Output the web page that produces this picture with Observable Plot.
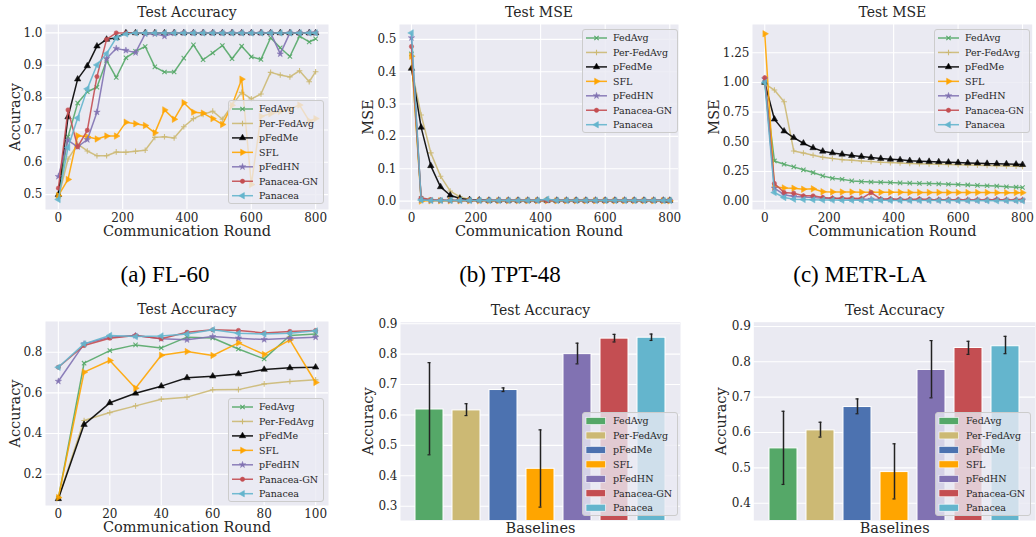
<!DOCTYPE html>
<html><head><meta charset="utf-8">
<script src="https://cdn.jsdelivr.net/npm/d3@7"></script>
<script src="https://cdn.jsdelivr.net/npm/@observablehq/plot@0.6"></script>
<style>
body{margin:0;background:#fff;}
#root{position:relative;width:1036px;height:537px;overflow:hidden;background:#fff;font-family:"DejaVu Serif";}
.panel{position:absolute;}
.cap{position:absolute;font-family:"Liberation Serif";font-size:23px;color:#000;transform:translate(-50%,-50%);white-space:nowrap;}
</style></head><body><div id="root"></div>
<script>
// ---------- data ----------
const methods = ["FedAvg","Per-FedAvg","pFedMe","SFL","pFedHN","Panacea-GN","Panacea"];
const lineColors = ["#55A868","#CCB974","#000000","#FFA500","#8172B2","#C44E52","#64B5CD"];
const barColors  = ["#55A868","#CCB974","#4C72B0","#FFA500","#8172B2","#C44E52","#64B5CD"];

const rounds800 = [0,30,60,90,120,150,180,210,240,270,300,330,360,390,420,450,480,510,540,570,600,630,660,690,720,750,780,800];
const rounds100 = [0,10,20,30,40,50,60,70,80,90,100];

// (a) FL-60 test accuracy
const a_FedAvg    = [0.497,0.679,0.783,0.818,0.832,0.915,0.862,0.923,0.943,0.958,0.895,0.879,0.879,0.922,0.963,0.917,0.938,0.961,0.920,0.959,0.926,0.918,0.985,0.954,0.927,0.990,0.972,0.982];
const a_PerFedAvg = [0.490,0.610,0.656,0.635,0.620,0.620,0.632,0.631,0.634,0.637,0.677,0.679,0.675,0.710,0.735,0.748,0.758,0.733,0.776,0.816,0.796,0.811,0.878,0.870,0.864,0.883,0.849,0.880];
const a_pFedMe    = [0.500,0.740,0.857,0.898,0.959,0.980,0.985,1.000,1.000,1.000,1.000,1.000,1.000,1.000,1.000,1.000,1.000,1.000,1.000,1.000,1.000,1.000,1.000,1.000,1.000,1.000,1.000,1.000];
const a_SFL       = [0.497,0.547,0.682,0.679,0.672,0.681,0.681,0.724,0.719,0.714,0.691,0.762,0.733,0.784,0.755,0.752,0.735,0.717,0.776,0.857,0.531,0.742,0.750,0.757,0.765,0.777,0.728,0.735];
const a_pFedHN    = [0.556,0.668,0.648,0.670,0.755,0.921,0.952,0.946,0.939,0.997,0.997,0.990,0.999,1.000,1.000,1.000,1.000,1.000,1.000,1.000,1.000,1.000,1.000,0.935,1.000,1.000,1.000,1.000];
const a_PanaceaGN = [0.520,0.762,0.648,0.699,0.865,0.980,1.000,1.000,1.000,1.000,1.000,1.000,1.000,1.000,1.000,1.000,1.000,1.000,1.000,1.000,1.000,1.000,1.000,1.000,1.000,1.000,1.000,1.000];
const a_Panacea   = [0.485,0.646,0.737,0.827,0.901,0.936,0.985,0.997,1.000,1.000,1.000,1.000,1.000,1.000,1.000,1.000,1.000,1.000,1.000,1.000,1.000,1.000,1.000,1.000,1.000,1.000,1.000,1.000];

// (b) TPT-48 test MSE
const b_FedAvg    = [0.455,0.008,0.003,0.002,0.002,0.002,0.002,0.002,0.002,0.002,0.002,0.002,0.002,0.002,0.002,0.002,0.002,0.002,0.002,0.002,0.002,0.002,0.002,0.002,0.002,0.002,0.002,0.002];
const b_PerFedAvg = [0.410,0.266,0.149,0.077,0.031,0.013,0.005,0.003,0.002,0.002,0.002,0.002,0.002,0.002,0.002,0.002,0.002,0.002,0.002,0.002,0.002,0.002,0.002,0.002,0.002,0.002,0.002,0.002];
const b_pFedMe    = [0.410,0.228,0.109,0.044,0.018,0.008,0.004,0.003,0.002,0.002,0.002,0.002,0.002,0.002,0.002,0.002,0.002,0.002,0.002,0.002,0.002,0.002,0.002,0.002,0.002,0.002,0.002,0.002];
const b_SFL       = [0.448,0.000,0.001,0.001,0.001,0.001,0.001,0.001,0.001,0.001,0.001,0.001,0.001,0.001,0.001,0.001,0.001,0.001,0.001,0.001,0.001,0.001,0.001,0.001,0.001,0.001,0.001,0.001];
const b_pFedHN    = [0.505,0.004,0.002,0.002,0.002,0.002,0.002,0.002,0.002,0.002,0.002,0.002,0.002,0.002,0.002,0.002,0.002,0.002,0.002,0.002,0.002,0.002,0.002,0.002,0.002,0.002,0.002,0.002];
const b_PanaceaGN = [0.478,0.010,0.004,0.003,0.002,0.002,0.002,0.002,0.002,0.002,0.002,0.002,0.002,0.002,0.002,0.002,0.002,0.002,0.002,0.002,0.002,0.002,0.002,0.002,0.002,0.002,0.002,0.002];
const b_Panacea   = [0.520,0.003,0.002,0.002,0.002,0.002,0.002,0.002,0.002,0.002,0.002,0.002,0.002,0.002,0.006,0.002,0.002,0.002,0.002,0.002,0.002,0.002,0.002,0.002,0.002,0.002,0.002,0.002];

// (c) METR-LA test MSE
const c_FedAvg    = [1.000,0.339,0.311,0.289,0.264,0.241,0.213,0.193,0.185,0.171,0.165,0.162,0.160,0.157,0.154,0.152,0.150,0.148,0.146,0.143,0.140,0.137,0.133,0.130,0.127,0.122,0.118,0.115];
const c_PerFedAvg = [0.990,0.936,0.838,0.423,0.406,0.387,0.370,0.359,0.350,0.345,0.339,0.334,0.328,0.325,0.322,0.318,0.315,0.313,0.311,0.309,0.307,0.305,0.303,0.301,0.299,0.297,0.295,0.292];
const c_pFedMe    = [1.000,0.690,0.590,0.535,0.488,0.449,0.420,0.406,0.395,0.384,0.376,0.367,0.359,0.353,0.348,0.341,0.337,0.334,0.331,0.328,0.325,0.322,0.320,0.317,0.316,0.314,0.311,0.308];
const c_SFL       = [1.410,0.121,0.112,0.109,0.101,0.104,0.080,0.078,0.077,0.077,0.076,0.076,0.075,0.075,0.075,0.074,0.074,0.074,0.074,0.073,0.073,0.073,0.073,0.073,0.072,0.072,0.072,0.072];
const c_pFedHN    = [1.030,0.110,0.055,0.040,0.035,0.030,0.025,0.022,0.020,0.018,0.017,0.016,0.015,0.014,0.013,0.012,0.012,0.011,0.011,0.010,0.010,0.010,0.010,0.010,0.015,0.010,0.010,0.010];
const c_PanaceaGN = [1.040,0.149,0.073,0.067,0.045,0.045,0.031,0.025,0.025,0.025,0.022,0.073,0.017,0.020,0.015,0.015,0.018,0.014,0.012,0.013,0.012,0.011,0.011,0.011,0.012,0.011,0.010,0.010];
const c_Panacea   = [1.000,0.073,0.031,0.017,0.014,0.012,0.010,0.009,0.008,0.008,0.007,0.007,0.007,0.006,0.006,0.005,0.005,0.005,0.005,0.005,0.004,0.004,0.004,0.004,0.004,0.004,0.003,0.003];

// (d) test accuracy, 100 rounds
const d_FedAvg    = [0.082,0.746,0.808,0.836,0.821,0.874,0.870,0.816,0.767,0.882,0.890];
const d_PerFedAvg = [0.082,0.464,0.503,0.536,0.569,0.579,0.615,0.616,0.644,0.656,0.664];
const d_pFedMe    = [0.079,0.444,0.551,0.598,0.633,0.674,0.682,0.693,0.715,0.723,0.726];
const d_SFL       = [0.085,0.702,0.759,0.623,0.785,0.803,0.784,0.846,0.789,0.861,0.651];
const d_pFedHN    = [0.657,0.841,0.874,0.882,0.866,0.861,0.877,0.869,0.862,0.869,0.874];
const d_PanaceaGN = [0.726,0.833,0.869,0.882,0.866,0.898,0.910,0.907,0.895,0.902,0.907];
const d_Panacea   = [0.726,0.841,0.882,0.877,0.880,0.890,0.910,0.893,0.890,0.893,0.905];

// (e), (f) bar charts: mean and error-bar ends
const e_mean = [0.618,0.615,0.682,0.423,0.800,0.851,0.854];
const e_lo   = [0.469,0.598,0.677,0.297,0.768,0.840,0.845];
const e_hi   = [0.772,0.637,0.689,0.551,0.836,0.865,0.866];
const f_mean = [0.555,0.606,0.672,0.488,0.777,0.839,0.844];
const f_lo   = [0.453,0.587,0.653,0.412,0.698,0.821,0.823];
const f_hi   = [0.660,0.629,0.695,0.568,0.860,0.858,0.872];

const captions = ["(a) FL-60","(b) TPT-48","(c) METR-LA"];

// ---------- symbols ----------
function tri(angle){ // equilateral triangle pointing at angle (radians, 0 = right)
  return {draw(ctx, size){
    const R = Math.sqrt(size/1.299);
    for(let k=0;k<3;k++){
      const a = angle + k*2*Math.PI/3;
      const x = R*Math.cos(a), y = R*Math.sin(a);
      if(k===0) ctx.moveTo(x,y); else ctx.lineTo(x,y);
    }
    ctx.closePath();
  }};
}
const markers = [
  {sym: d3.symbolTimes, size: 14, filled:false},
  {sym: d3.symbolPlus, size: 12, filled:false},
  {sym: tri(-Math.PI/2), size: 18, filled:true},
  {sym: tri(0), size: 18, filled:true},
  {sym: d3.symbolStar, size: 13, filled:true},
  {sym: d3.symbolCircle, size: 15, filled:true},
  {sym: tri(Math.PI), size: 18, filled:true},
];

const root = document.getElementById("root");
const BG = "#EAEAF2";
const TXT = "#262626";

function place(node, left, top){
  const div = document.createElement("div");
  div.className = "panel";
  div.style.left = left+"px"; div.style.top = top+"px";
  div.appendChild(node);
  root.appendChild(div);
}

function baseStyle(){
  return {fontFamily:"DejaVu Serif", fontSize:"12px", color:TXT, background:"transparent", overflow:"visible"};
}
const mid = {textAnchor:"middle", lineAnchor:"middle", fill:TXT};

function linePanel(o){
  const marks = [
    Plot.frame({fill:BG, stroke:null}),
    Plot.gridX(o.xTicks, {stroke:"white", strokeOpacity:1, strokeWidth:1.1}),
    Plot.gridY(o.yTicks, {stroke:"white", strokeOpacity:1, strokeWidth:1.1}),
    Plot.axisX(o.xTicks, {tickSize:0, tickPadding:4, tickFormat:d3.format("d"), label:null, fontSize:12}),
    Plot.axisY(o.yTicks, {tickSize:0, tickPadding:3, tickFormat:d3.format(o.yFmt), label:null, fontSize:12}),
  ];
  o.series.forEach((vals,i)=>{
    const data = o.xs.map((x,j)=>({x, y: vals[j]}));
    const mk = markers[i];
    marks.push(Plot.line(data, {x:"x", y:"y", stroke:lineColors[i], strokeWidth:1.5, strokeOpacity:0.9}));
    marks.push(Plot.dot(data, {x:"x", y:"y", symbol:mk.sym, r:Math.sqrt(mk.size/Math.PI),
      fill: mk.filled ? lineColors[i] : "none", stroke: lineColors[i], strokeWidth: mk.filled ? 0.5 : 1.1, strokeOpacity:0.9, fillOpacity:0.9}));
  });
  marks.push(Plot.text([o.title], {...mid, text:d=>d, frameAnchor:"top", dy:-12, fontSize:14}));
  marks.push(Plot.text(["Communication Round"], {...mid, text:d=>d, frameAnchor:"bottom", dy:22, fontSize:14.5}));
  marks.push(Plot.text([o.ylabel], {...mid, text:d=>d, frameAnchor:"left", dx:o.ylDx, rotate:-90, fontSize:14.5}));
  const svg = Plot.plot({
    width:o.width, height:o.height,
    marginTop:o.mt, marginRight:o.mr, marginBottom:o.mb, marginLeft:o.ml,
    x:{domain:o.xDomain}, y:{domain:o.yDomain},
    style: baseStyle(),
    marks
  });
  place(svg, o.left, o.top);
  legend(o.legLeft, o.legTop, "line");
}

function barPanel(o){
  const data = methods.map((m,i)=>({m, v:o.mean[i], lo:o.lo[i], hi:o.hi[i]}));
  const svg = Plot.plot({
    width:o.width, height:o.height,
    marginTop:o.mt, marginRight:o.mr, marginBottom:o.mb, marginLeft:o.ml,
    x:{domain:methods, paddingInner:0.24, paddingOuter:o.po, axis:null},
    y:{domain:o.yDomain},
    color:{domain:methods, range:barColors},
    style: baseStyle(),
    marks:[
      Plot.frame({fill:BG, stroke:null}),
      Plot.gridY(o.yTicks, {stroke:"white", strokeOpacity:1, strokeWidth:1.1}),
      Plot.axisY(o.yTicks, {tickSize:0, tickPadding:3, tickFormat:d3.format(".1f"), label:null, fontSize:12}),
      Plot.barY(data, {x:"m", y:"v", fill:"m", stroke:"white", strokeWidth:1, clip:true}),
      Plot.ruleX(data, {x:"m", y1:"lo", y2:"hi", stroke:"#222", strokeWidth:1.5}),
      Plot.tickY(data, {x:"m", y:"lo", stroke:"#222", strokeWidth:1.2, insetLeft:12.5, insetRight:12.5}),
      Plot.tickY(data, {x:"m", y:"hi", stroke:"#222", strokeWidth:1.2, insetLeft:12.5, insetRight:12.5}),
      Plot.text(["Test Accuracy"], {...mid, text:d=>d, frameAnchor:"top", dy:-12, fontSize:14}),
      Plot.text(["Baselines"], {...mid, text:d=>d, frameAnchor:"bottom", dy:8, fontSize:14.5}),
      Plot.text(["Accuracy"], {...mid, text:d=>d, frameAnchor:"left", dx:o.ylDx, rotate:-90, fontSize:14.5}),
    ]
  });
  place(svg, o.left, o.top);
  legend(o.legLeft, o.legTop, "bar");
}

function legend(left, top, kind){
  const w = 96, h = 104;
  const svg = d3.create("svg").attr("width", w).attr("height", h)
    .style("position","absolute").style("left", left+"px").style("top", top+"px").style("overflow","visible");
  svg.append("rect").attr("x",0.5).attr("y",0.5).attr("width",w-1).attr("height",h-1).attr("rx",2.5)
    .attr("fill",BG).attr("fill-opacity",0.8).attr("stroke","#cccccc").attr("stroke-width",1);
  methods.forEach((m,i)=>{
    const y = 9 + 14.45*i;
    if(kind === "line"){
      svg.append("line").attr("x1",4).attr("x2",25).attr("y1",y).attr("y2",y)
        .attr("stroke",lineColors[i]).attr("stroke-width",1.5).attr("stroke-opacity",0.9);
      const mk = markers[i];
      svg.append("path").attr("d", d3.symbol(mk.sym, mk.size)()).attr("transform",`translate(14.5,${y})`)
        .attr("fill", mk.filled ? lineColors[i] : "none").attr("stroke", lineColors[i])
        .attr("stroke-width", mk.filled ? 0.5 : 1.1);
    } else {
      svg.append("rect").attr("x",4).attr("y",y-3.5).attr("width",19.5).attr("height",7)
        .attr("fill",barColors[i]).attr("stroke","white").attr("stroke-width",0.6);
    }
    svg.append("text").attr("x",31).attr("y",y).attr("dy","0.35em")
      .attr("font-family","DejaVu Serif").attr("font-size",9.5).attr("fill",TXT).text(m);
  });
  root.appendChild(svg.node());
}

// ---------- panels ----------
linePanel({left:0, top:0, width:345, height:250, mt:24, mr:17, mb:41, ml:45,
  xs:rounds800, series:[a_FedAvg,a_PerFedAvg,a_pFedMe,a_SFL,a_pFedHN,a_PanaceaGN,a_Panacea],
  xDomain:[-40,840], yDomain:[0.454,1.026], xTicks:[0,200,400,600,800], yTicks:[0.5,0.6,0.7,0.8,0.9,1.0],
  yFmt:".1f", title:"Test Accuracy", ylabel:"Accuracy", ylDx:-30.5, legLeft:228, legTop:100});

linePanel({left:345, top:0, width:345, height:250, mt:24, mr:12, mb:41, ml:54,
  xs:rounds800, series:[b_FedAvg,b_PerFedAvg,b_pFedMe,b_SFL,b_pFedHN,b_PanaceaGN,b_Panacea],
  xDomain:[-37,827], yDomain:[-0.026,0.546], xTicks:[0,200,400,600,800], yTicks:[0,0.1,0.2,0.3,0.4,0.5],
  yFmt:".1f", title:"Test MSE", ylabel:"MSE", ylDx:-31.5, legLeft:581.7, legTop:29});

linePanel({left:690, top:0, width:346, height:250, mt:24, mr:4.3, mb:41, ml:62,
  xs:rounds800, series:[c_FedAvg,c_PerFedAvg,c_pFedMe,c_SFL,c_pFedHN,c_PanaceaGN,c_Panacea],
  xDomain:[-38,830], yDomain:[-0.07,1.488], xTicks:[0,200,400,600,800], yTicks:[0,0.25,0.5,0.75,1.0,1.25],
  yFmt:".2f", title:"Test MSE", ylabel:"MSE", ylDx:-38, legLeft:934.3, legTop:29});

linePanel({left:0, top:290, width:345, height:247, mt:31, mr:17, mb:32, ml:45,
  xs:rounds100, series:[d_FedAvg,d_PerFedAvg,d_pFedMe,d_SFL,d_pFedHN,d_PanaceaGN,d_Panacea],
  xDomain:[-5,105], yDomain:[0.046,0.951], xTicks:[0,20,40,60,80,100], yTicks:[0.2,0.4,0.6,0.8],
  yFmt:".1f", title:"Test Accuracy", ylabel:"Accuracy", ylDx:-30.5, legLeft:228, legTop:397.7});

barPanel({left:345, top:290, width:345, height:247, mt:31.7, mr:10, mb:17, ml:55, po:0.32,
  mean:e_mean, lo:e_lo, hi:e_hi, yDomain:[0.253,0.905], yTicks:[0.3,0.4,0.5,0.6,0.7,0.8,0.9],
  ylDx:-32, legLeft:581.7, legTop:411.7});

barPanel({left:690, top:290, width:346, height:247, mt:31.7, mr:1, mb:17, ml:63.3, po:0.36,
  mean:f_mean, lo:f_lo, hi:f_hi, yDomain:[0.351,0.912], yTicks:[0.4,0.5,0.6,0.7,0.8,0.9],
  ylDx:-32.5, legLeft:935, legTop:411.7});

// captions
[[165,275],[510,275],[860,275]].forEach(([x,y],i)=>{
  const d = document.createElement("div");
  d.className = "cap"; d.style.left = x+"px"; d.style.top = y+"px";
  d.textContent = captions[i];
  root.appendChild(d);
});
</script></body></html>
